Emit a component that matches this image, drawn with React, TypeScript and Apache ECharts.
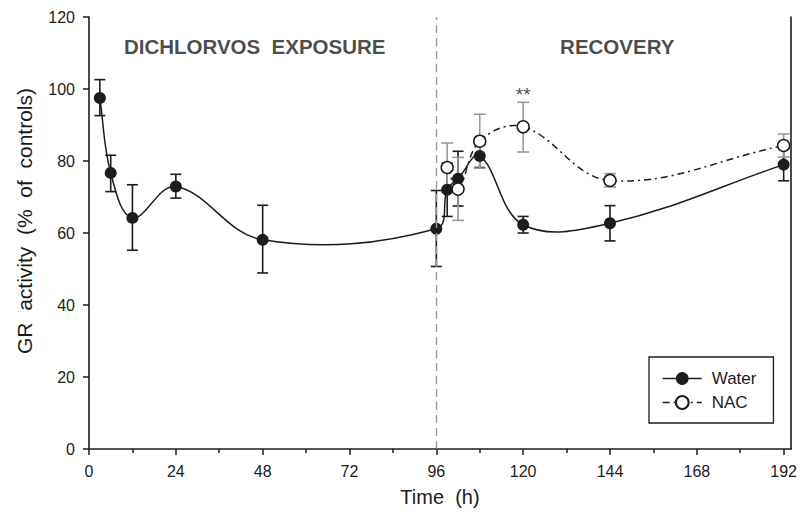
import React, { useEffect, useRef } from "react";
import * as echarts from "echarts";

// ---- data ----
const xMajorTicks = [0, 24, 48, 72, 96, 120, 144, 168, 192];
const xMinorTicks = [12, 36, 60, 84, 108, 132, 156, 180];

const waterTime = [3, 6, 12, 24, 48, 96, 99, 102, 108, 120, 144, 192];
const waterMean = [97.5, 76.7, 64.2, 72.9, 58.1, 61.2, 72.0, 75.1, 81.4, 62.3, 62.7, 79.0];
const waterLow = [92.6, 71.5, 55.2, 69.7, 48.9, 50.7, 64.6, 67.5, 78.2, 60.0, 57.8, 74.5];
const waterHigh = [102.6, 81.6, 73.4, 76.3, 67.7, 71.8, 79.4, 82.7, 84.6, 64.6, 67.6, 83.5];

const nacTime = [99, 102, 108, 120, 144, 192];
const nacMean = [78.2, 72.2, 85.5, 89.5, 74.6, 84.3];
const nacLow = [71.4, 63.5, 78.0, 82.5, 72.8, 81.1];
const nacHigh = [85.0, 81.0, 93.0, 96.3, 76.5, 87.5];

const exposureEnd = 96;

const annotationText = ["DICHLORVOS  EXPOSURE", "RECOVERY", "**"];
const annotationX = [45.8, 146, 120];
const annotationY = [111.8, 111.8, 98.6];

const FONT = "'Liberation Sans', Arial, Helvetica, sans-serif";
const INK = "#1c1c1c";
const GREY = "#9a9a9a";
const NAC_DASH = [7, 4, 2, 4];

const errRender = (color: string, cap: number) => (_params: any, api: any) => {
  const x = api.value(0);
  const lo = api.coord([x, api.value(1)]);
  const hi = api.coord([x, api.value(2)]);
  const style = { stroke: color, lineWidth: 1.6 };
  return {
    type: "group",
    children: [
      { type: "line", shape: { x1: lo[0], y1: lo[1], x2: hi[0], y2: hi[1] }, style },
      { type: "line", shape: { x1: lo[0] - cap / 2, y1: lo[1], x2: lo[0] + cap / 2, y2: lo[1] }, style },
      { type: "line", shape: { x1: hi[0] - cap / 2, y1: hi[1], x2: hi[0] + cap / 2, y2: hi[1] }, style },
    ],
  };
};

// smooth spline (chord-length Catmull-Rom) through the data, in pixel space
const curveRender = (xs: number[], ys: number[], style: any, k: number) => (params: any, api: any) => {
  const i = params.dataIndex;
  const n = xs.length;
  if (i >= n - 1) return null;
  const P = (j: number) => {
    const jj = Math.max(0, Math.min(n - 1, j));
    return api.coord([xs[jj], ys[jj]]);
  };
  const p0 = P(i - 1), p1 = P(i), p2 = P(i + 1), p3 = P(i + 2);
  const dist = (a: number[], b: number[]) => Math.hypot(b[0] - a[0], b[1] - a[1]);
  const d01 = dist(p0, p1), d12 = dist(p1, p2), d23 = dist(p2, p3);
  const s1 = d01 + d12 || 1;
  const s2 = d12 + d23 || 1;
  const t1 = [(p2[0] - p0[0]) / s1, (p2[1] - p0[1]) / s1];
  const t2 = [(p3[0] - p1[0]) / s2, (p3[1] - p1[1]) / s2];
  return {
    type: "bezierCurve",
    shape: {
      x1: p1[0], y1: p1[1],
      x2: p2[0], y2: p2[1],
      cpx1: p1[0] + t1[0] * d12 * k, cpy1: p1[1] + t1[1] * d12 * k,
      cpx2: p2[0] - t2[0] * d12 * k, cpy2: p2[1] - t2[1] * d12 * k,
    },
    style: { ...style, fill: null },
  };
};

export default function App() {
  const ref = useRef<HTMLDivElement>(null);
  useEffect(() => {
    document.body.style.margin = "0";
    if (!ref.current) return;
    const chart = echarts.init(ref.current, undefined, { renderer: "svg" });

    const waterData = waterTime.map((t, i) => [t, waterMean[i]]);
    const nacData = nacTime.map((t, i) => [t, nacMean[i]]);
    const waterErr = waterTime.map((t, i) => [t, waterLow[i], waterHigh[i]]);
    const nacErr = nacTime.map((t, i) => [t, nacLow[i], nacHigh[i]]);
    const annData = annotationText.map((s, i) => ({
      value: [annotationX[i], annotationY[i]],
      name: s,
      label: s === "**"
        ? { fontSize: 19, fontWeight: "normal" }
        : { fontSize: 20.5, fontWeight: "bold" },
    }));

    chart.setOption({
      animation: false,
      backgroundColor: "#ffffff",
      textStyle: { fontFamily: FONT },
      grid: { left: 89, right: 7, top: 17, bottom: 62.5 },
      legend: {
        data: [
          { name: "Water", lineStyle: { color: INK, width: 1.5, opacity: 1, type: "solid" } },
          { name: "NAC", lineStyle: { color: INK, width: 1.5, opacity: 1, type: NAC_DASH } },
        ],
        orient: "vertical",
        left: 649,
        top: 357,
        borderColor: INK,
        borderWidth: 1.3,
        padding: [13, 17, 12, 13],
        itemGap: 7,
        itemWidth: 39,
        itemHeight: 16,
        textStyle: { fontSize: 17, color: INK, fontFamily: FONT, padding: [0, 0, 0, 5] },
      },
      xAxis: [
        {
          type: "value",
          min: 0,
          max: 194,
          position: "bottom",
          name: "Time  (h)",
          nameLocation: "middle",
          nameGap: 38,
          nameTextStyle: { fontSize: 20, color: INK, fontFamily: FONT },
          axisLine: { show: true, onZero: false, lineStyle: { color: INK, width: 1.6 } },
          axisTick: { show: true, customValues: xMajorTicks, length: 6, lineStyle: { color: INK, width: 1.5 } },
          axisLabel: { customValues: xMajorTicks, margin: 14, fontSize: 16, color: INK, fontFamily: FONT },
          splitLine: { show: false },
        },
        {
          type: "value",
          min: 0,
          max: 194,
          position: "bottom",
          axisLine: { show: false, onZero: false },
          axisTick: { show: true, customValues: xMinorTicks, length: 4, lineStyle: { color: INK, width: 1.5 } },
          axisLabel: { show: false },
          splitLine: { show: false },
        },
      ],
      yAxis: [
        {
          type: "value",
          min: 0,
          max: 120,
          interval: 20,
          position: "left",
          name: "GR  activity  (%  of  controls)",
          nameLocation: "middle",
          nameGap: 54,
          nameTextStyle: { fontSize: 21, color: INK, fontFamily: FONT, padding: [0, 0, 0, 24] },
          axisLine: { show: true, onZero: false, lineStyle: { color: INK, width: 1.6 } },
          axisTick: { show: true, length: 6, lineStyle: { color: INK, width: 1.5 } },
          axisLabel: { margin: 14, fontSize: 16, color: INK, fontFamily: FONT },
          splitLine: { show: false },
        },
        {
          type: "value",
          min: 0,
          max: 120,
          position: "right",
          axisLine: { show: true, onZero: false, lineStyle: { color: INK, width: 1.6 } },
          axisTick: { show: false },
          axisLabel: { show: false },
          splitLine: { show: false },
        },
      ],
      series: [
        {
          type: "custom",
          name: "waterErr",
          z: 1,
          renderItem: errRender(INK, 11),
          encode: { x: 0, y: [1, 2] },
          data: waterErr,
          silent: true,
        },
        {
          type: "custom",
          name: "nacErr",
          z: 1,
          renderItem: errRender(GREY, 12),
          encode: { x: 0, y: [1, 2] },
          data: nacErr,
          silent: true,
        },
        {
          type: "custom",
          name: "waterCurve",
          z: 2,
          silent: true,
          renderItem: curveRender(waterTime, waterMean, { stroke: INK, lineWidth: 1.5 }, 0.38),
          encode: { x: 0, y: 1 },
          data: waterData,
        },
        {
          type: "custom",
          name: "nacCurve",
          z: 2,
          silent: true,
          renderItem: curveRender(nacTime, nacMean, { stroke: INK, lineWidth: 1.5, lineDash: NAC_DASH }, 0.38),
          encode: { x: 0, y: 1 },
          data: nacData,
        },
        {
          type: "line",
          name: "Water",
          z: 3,
          data: waterData,
          symbol: "circle",
          symbolSize: 12,
          showAllSymbol: true,
          itemStyle: { color: INK },
          lineStyle: { color: INK, width: 0, opacity: 0 },
          markLine: {
            silent: true,
            symbol: ["none", "none"],
            label: { show: false },
            lineStyle: { color: GREY, type: [8, 5], width: 1.4, opacity: 1 },
            data: [{ xAxis: exposureEnd }],
          },
        },
        {
          type: "line",
          name: "NAC",
          z: 4,
          data: nacData,
          symbol: "circle",
          symbolSize: 12,
          showAllSymbol: true,
          itemStyle: { color: "#ffffff", borderColor: INK, borderWidth: 1.5 },
          lineStyle: { color: INK, width: 0, opacity: 0, type: NAC_DASH },
        },
        {
          type: "scatter",
          name: "annotations",
          z: 5,
          silent: true,
          symbolSize: 0,
          data: annData,
          label: {
            show: true,
            position: "inside",
            formatter: (p: any) => p.name,
            color: INK,
            fontFamily: FONT,
          },
        },
      ],
    });
    return () => chart.dispose();
  }, []);
  return <div ref={ref} style={{ width: 800, height: 512 }} />;
}
